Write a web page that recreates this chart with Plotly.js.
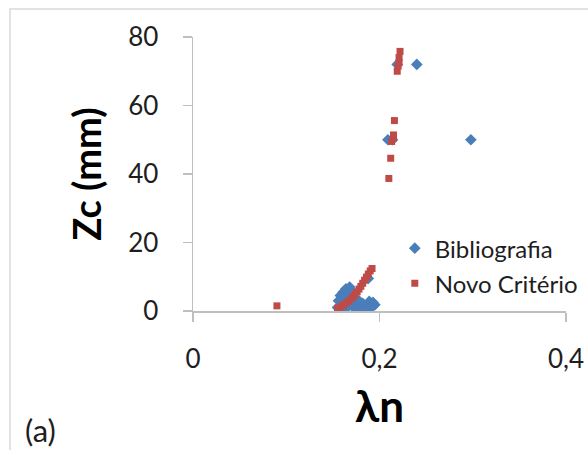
<!DOCTYPE html>
<html>
<head>
<meta charset="utf-8">
<script src="https://cdn.plot.ly/plotly-3.0.1.min.js"></script>
<style>html,body{margin:0;padding:0;background:#fff;}#chart{width:588px;height:450px;}</style>
</head>
<body>
<div id="chart"></div>
<script>
// Series: Bibliografia (blue diamonds)
const biblioX = [0.240, 0.219, 0.298, 0.209, 0.214,
  0.155, 0.156, 0.158, 0.160, 0.161, 0.163, 0.164, 0.166, 0.167, 0.168, 0.170, 0.171,
  0.173, 0.175, 0.177, 0.178, 0.180, 0.182, 0.184, 0.186, 0.188, 0.189, 0.191, 0.193, 0.195, 0.162, 0.158];
const biblioY = [72, 72, 50, 50, 50,
  1.0, 3.0, 4.5, 2.0, 5.5, 3.5, 6.5, 4.8, 1.5, 7.0, 5.8, 2.5,
  0.8, 2.0, 0.5, 3.0, 1.2, 2.2, 0.4, 1.6, 9.5, 2.8, 1.0, 2.5, 1.8, 0.5, 1.5];

// Series: Novo Critério (red squares)
const novoX = [0.090,
  0.155, 0.158, 0.161, 0.164, 0.167, 0.170, 0.172, 0.174, 0.176, 0.178, 0.180, 0.182, 0.184, 0.186, 0.188, 0.190, 0.192,
  0.210, 0.212, 0.213, 0.215, 0.215, 0.216,
  0.219, 0.220, 0.221, 0.221, 0.222];
const novoY = [1.5,
  0.8, 1.2, 1.7, 2.3, 2.9, 3.6, 4.2, 4.9, 5.6, 6.4, 7.2, 8.1, 9.0, 9.9, 10.8, 11.7, 12.4,
  38.7, 44.6, 49.5, 50.5, 51.4, 55.6,
  70.0, 71.5, 72.5, 74.0, 75.8];

const seriesNames = ["Bibliografia", "Novo Critério"];
const xTickVals = [0, 0.2, 0.4];
const yTickVals = [0, 20, 40, 60, 80];
const xTitle = "λn";
const yTitle = "Zc (mm)";
const panelLabel = "(a)";

const FONT = "Lato, 'Open Sans', sans-serif";
const TXT = "#1e1e1e";

const traces = [
  {x: biblioX, y: biblioY, name: seriesNames[0], type: "scatter", mode: "markers",
   legendgroup: "a",
   marker: {symbol: "diamond", size: 9, color: "#4a7ebb"}},
  {x: novoX, y: novoY, name: seriesNames[1], type: "scatter", mode: "markers",
   legendgroup: "b",
   marker: {symbol: "square", size: 7, color: "#be4b48"}}
];

const layout = {
  width: 588, height: 450,
  margin: {l: 193, r: 22, t: 37, b: 139, autoexpand: false},
  paper_bgcolor: "#ffffff", plot_bgcolor: "#ffffff",
  separators: ", ",
  font: {family: FONT, color: TXT},
  showlegend: true,
  legend: {x: 0.541, y: 0.31, xanchor: "left", yanchor: "top",
    font: {family: FONT, size: 24, color: TXT},
    traceorder: "grouped", tracegroupgap: 1, bgcolor: "rgba(0,0,0,0)"},
  xaxis: {range: [0, 0.4], tickvals: xTickVals, showgrid: false, zeroline: false,
    automargin: false,
    showline: true, linecolor: "#bfbfbf", linewidth: 1.5,
    ticks: "outside", ticklen: 9, tickcolor: "#bfbfbf", tickwidth: 1.5,
    ticklabelstandoff: 15,
    tickfont: {family: FONT, size: 26, color: TXT},
    title: {text: xTitle, font: {family: FONT, size: 44, color: "#000", weight: "bold"}, standoff: 18}},
  yaxis: {range: [0, 80], tickvals: yTickVals, showgrid: false, zeroline: false,
    automargin: false,
    showline: true, linecolor: "#bfbfbf", linewidth: 1.5,
    ticks: "outside", ticklen: 9, tickcolor: "#bfbfbf", tickwidth: 1.5,
    ticklabelstandoff: 19,
    tickfont: {family: FONT, size: 26, color: TXT},
    title: {text: yTitle, font: {family: FONT, size: 38, color: "#000", weight: "bold"}, standoff: 15}},
  shapes: [
    {type: "rect", xref: "paper", yref: "paper",
     x0: (10 - 193) / 373, x1: 1.2, y0: -0.6, y1: (311 - 9) / 274,
     line: {color: "#d9d9d9", width: 1.5}, fillcolor: "rgba(0,0,0,0)", layer: "below"}
  ],
  annotations: [
    {text: panelLabel, xref: "paper", yref: "paper",
     x: (23 - 193) / 373, y: (311 - 430) / 274, xanchor: "left", yanchor: "middle",
     showarrow: false, font: {family: FONT, size: 31, color: TXT}}
  ]
};

Plotly.newPlot("chart", traces, layout, {displayModeBar: false, staticPlot: true});
</script>
</body>
</html>
